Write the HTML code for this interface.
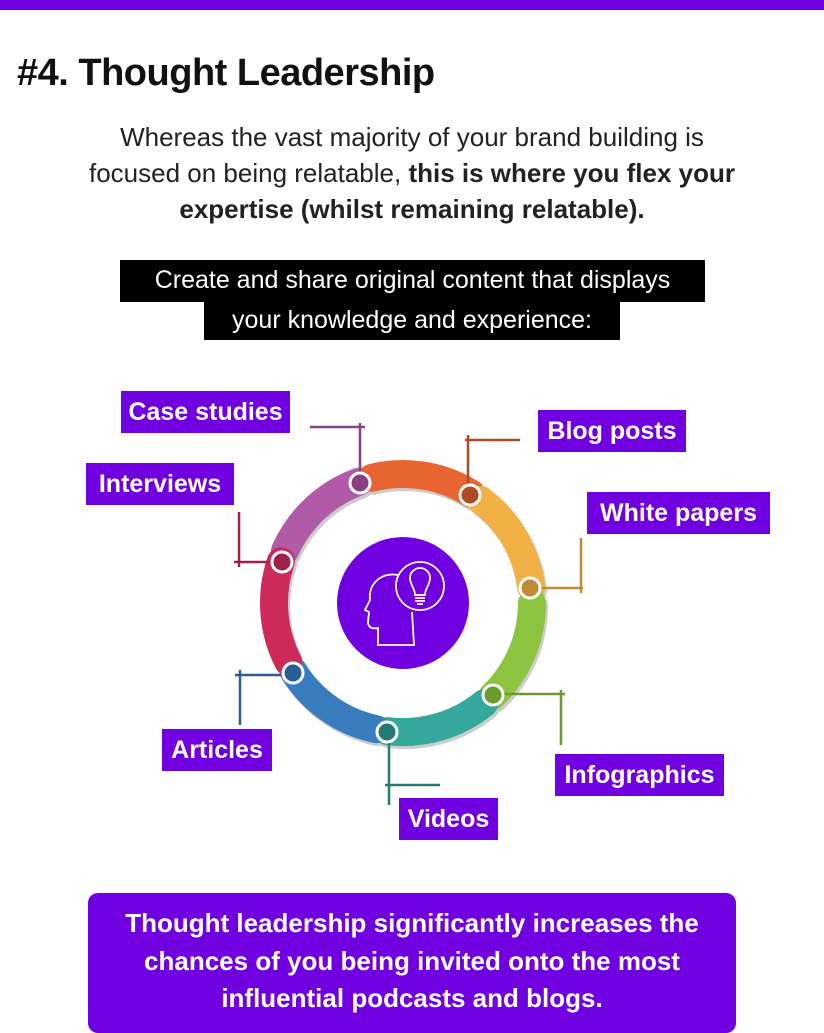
<!DOCTYPE html>
<html><head><meta charset="utf-8"><style>
body{margin:0;width:824px;height:1024px;overflow:hidden;background:#fff;font-family:"Liberation Sans",sans-serif;position:relative}
.top{position:absolute;left:0;top:0;width:824px;height:10px;background:#7000e0}
h1{position:absolute;left:17px;top:52px;margin:0;font-size:38px;font-weight:bold;color:#111;letter-spacing:-0.5px}
.p{position:absolute;left:0;width:824px;text-align:center;font-size:26px;color:#222;line-height:36px;top:119px}
.bk{position:absolute;background:#000;color:#fff;font-size:25px;line-height:40px;text-align:center}
.lb{position:absolute;background:#7000e0;color:#fff;font-weight:bold;font-size:25px;line-height:42px;text-align:center}
.bot{position:absolute;left:88px;top:893px;width:648px;height:140px;background:#7000e0;border-radius:10px;color:#fff;font-weight:bold;font-size:26px;line-height:37.5px;text-align:center;padding-top:12px;box-sizing:border-box}
</style></head><body>
<div class="top"></div>
<h1>#4. Thought Leadership</h1>
<div class="p">Whereas the vast majority of your brand building is<br>focused on being relatable, <b>this is where you flex your<br>expertise (whilst remaining relatable).</b></div>
<div class="bk" style="left:120px;top:260px;width:585px;height:42px">Create and share original content that displays</div>
<div class="bk" style="left:204px;top:300px;width:416px;height:40px">your knowledge and experience:</div>
<svg style="position:absolute;left:0;top:0" width="824" height="1024">
<g fill="none" stroke-width="28" stroke-linecap="round">
<g stroke="#ccc" transform="translate(2,3)">
<path d="M285.1 550.5 A129 129 0 0 1 358.9 481.7"/><path d="M371.8 477.8 A129 129 0 0 1 471.4 493.6"/><path d="M480.7 499.9 A129 129 0 0 1 531.1 587.3"/><path d="M532 603 A129 129 0 0 1 492.6 695.8"/><path d="M484.2 703.2 A129 129 0 0 1 387.3 731.1"/><path d="M376.2 729.2 A129 129 0 0 1 293.6 671.4"/><path d="M288.1 661.6 A129 129 0 0 1 281 561.1"/>
</g>
<path stroke="#b05aa8" d="M285.1 550.5 A129 129 0 0 1 358.9 481.7"/>
<path stroke="#e86431" d="M371.8 477.8 A129 129 0 0 1 471.4 493.6"/>
<path stroke="#f2b145" d="M480.7 499.9 A129 129 0 0 1 531.1 587.3"/>
<path stroke="#8cc43f" d="M532 603 A129 129 0 0 1 492.6 695.8"/>
<path stroke="#35a89c" d="M484.2 703.2 A129 129 0 0 1 387.3 731.1"/>
<path stroke="#3a7dbf" d="M376.2 729.2 A129 129 0 0 1 293.6 671.4"/>
<path stroke="#cc2b5a" d="M288.1 661.6 A129 129 0 0 1 281 561.1"/>
</g>
<g stroke-width="2.5" fill="none">
<path stroke="#8a3f82" d="M310 427H365M360 423V483"/>
<path stroke="#b04a24" d="M468 435V495M465 440H520"/>
<path stroke="#c08a36" d="M530 588H583M581 538V593"/>
<path stroke="#6a9a30" d="M493 694H565M561 690V745"/>
<path stroke="#257b72" d="M389 732V805M385 785H440"/>
<path stroke="#2a5e94" d="M235 675H293M240 670V725"/>
<path stroke="#a0224a" d="M234 562H282M239 512V567"/>
</g>
<g stroke="#fff" stroke-width="3">
<circle cx="360" cy="483" r="10" fill="#8a3f82"/><circle cx="470" cy="495" r="10" fill="#b04a24"/><circle cx="530" cy="588" r="10" fill="#c08a36"/><circle cx="493" cy="695" r="10" fill="#6a9a30"/><circle cx="387" cy="732" r="10" fill="#257b72"/><circle cx="293" cy="673" r="10" fill="#2a5e94"/><circle cx="282" cy="562" r="10" fill="#a0224a"/>
</g>
<circle cx="403" cy="603" r="66" fill="#7000e0"/>
<g fill="none" stroke="#fff" stroke-width="1.8">
<path d="M398 575 C380 572 368 585 370 600 L365 610 L369 612 L368 622 C368 628 373 629 378 628 L378 645 L414 645 L412 612"/>
<circle cx="420" cy="586" r="24"/>
<path d="M415 595 C415 588 410 585 410 578 C410 571 416 568 420 568 C424 568 430 571 430 578 C430 585 425 588 425 595 Z M415 598H425M415 601H425M417 604H423"/>
</g>
</svg>
<div class="lb" style="left:121px;top:391px;width:169px">Case studies</div>
<div class="lb" style="left:538px;top:410px;width:148px">Blog posts</div>
<div class="lb" style="left:86px;top:463px;width:148px">Interviews</div>
<div class="lb" style="left:587px;top:492px;width:183px">White papers</div>
<div class="lb" style="left:162px;top:729px;width:110px">Articles</div>
<div class="lb" style="left:555px;top:754px;width:169px">Infographics</div>
<div class="lb" style="left:399px;top:798px;width:99px">Videos</div>
<div class="bot">Thought leadership significantly increases the<br>chances of you being invited onto the most<br>influential podcasts and blogs.</div>
</body></html>
